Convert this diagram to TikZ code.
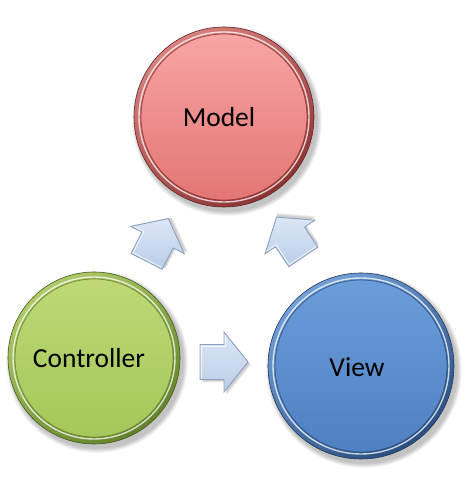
\documentclass[tikz,border=0pt]{standalone}
\usepackage{fontspec}
\setmainfont{Carlito}
\definecolor{mRimA}{HTML}{D8807D}\definecolor{mRimB}{HTML}{8E3333}
\definecolor{mFillA}{HTML}{F8A5A4}\definecolor{mFillB}{HTML}{E27674}
\definecolor{cRimA}{HTML}{ADCB68}\definecolor{cRimB}{HTML}{63822A}
\definecolor{cFillA}{HTML}{BCD975}\definecolor{cFillB}{HTML}{A4C75A}
\definecolor{vRimA}{HTML}{73A0D8}\definecolor{vRimB}{HTML}{2A4F80}
\definecolor{vFillA}{HTML}{6C9DDA}\definecolor{vFillB}{HTML}{4E80C2}
\definecolor{arFillA}{HTML}{DCE7F6}\definecolor{arFillB}{HTML}{B9CDE8}
\definecolor{arLine}{HTML}{8EA2C0}
\newcommand\bevelball[7]{% name, center, radius, rimA, rimB, fillA, fillB
  \begin{scope}[shift={#2}]
    \foreach \k in {1,...,7}{\fill[black,opacity=0.035] (3,-4) circle ({#3+\k*0.7});}
    \shade[top color=#4, bottom color=#5, shading angle=35] (0,0) circle (#3);
    \draw[#5!70!black, line width=0.6] (0,0) circle (#3);
    \draw[white, opacity=0.75, line width=1.4] (0,0) circle ({#3-5});
    \shade[top color=#6, bottom color=#7] (0,0) circle ({#3-7});
    \draw[#5, line width=0.8, opacity=0.8] (0,0) circle ({#3-7});
  \end{scope}
  \node[circle, minimum size={2*#3}, inner sep=0] (#1) at #2 {};
}
\tikzset{
  lbl/.style={font=\fontsize{27.5}{31}\selectfont, text=black, inner sep=0},
  blockarrow/.pic={
    \foreach \k in {1,...,4}{\fill[black,opacity=0.05,shift={(1+\k*0.5,-1-\k*0.5)}]
      (-24,-17.5) -- (0,-17.5) -- (0,-30) -- (24,0) -- (0,30) -- (0,17.5) -- (-24,17.5) -- cycle;}
    \shade[top color=arFillA, bottom color=arFillB]
      (-24,-17.5) -- (0,-17.5) -- (0,-30) -- (24,0) -- (0,30) -- (0,17.5) -- (-24,17.5) -- cycle;
    \draw[arLine, line width=0.9, line join=miter]
      (-24,-17.5) -- (0,-17.5) -- (0,-30) -- (24,0) -- (0,30) -- (0,17.5) -- (-24,17.5) -- cycle;
    \draw[white, opacity=0.8, line width=0.8]
      (-22.5,-16) -- (-22.5,16) -- (1.5,16) -- (1.5,27);
  }
}
\begin{document}
\begin{tikzpicture}[x=1pt,y=1pt]
  \useasboundingbox (0,0) rectangle (465,480);
  \fill[white] (0,0) rectangle (465,480);
  \bevelball{model}{(224,363)}{90}{mRimA}{mRimB}{mFillA}{mFillB}
  \bevelball{controller}{(94,122)}{86}{cRimA}{cRimB}{cFillA}{cFillB}
  \bevelball{view}{(361,114)}{93}{vRimA}{vRimB}{vFillA}{vFillB}
  \node[lbl] (modeltext) at (219,363) {Model};
  \node[lbl] (controllertext) at (89,122) {Controller};
  \node[lbl] (viewtext) at (357,113) {View};
  \coordinate (a1) at (157.5,240);
  \coordinate (a2) at (290,243);
  \coordinate (a3) at (224,118);
  \pic[rotate=63] at (a1) {blockarrow};
  \pic[rotate=124] at (a2) {blockarrow};
  \pic at (a3) {blockarrow};
\end{tikzpicture}
\end{document}
